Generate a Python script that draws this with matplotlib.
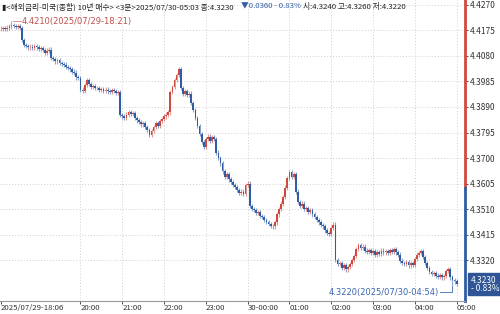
import matplotlib.pyplot as plt

plt.rcParams['font.family'] = ['Noto Sans CJK KR', 'DejaVu Sans']

# 3-minute bars, 2025/07/29 18:06 -> 2025/07/30 05:03
closes = [
    4.4182, 4.4185, 4.4180, 4.4186, 4.4190, 4.4195, 4.4192, 4.4188, 4.4190, 4.4185,
    4.4140, 4.4122, 4.4118, 4.4112, 4.4115, 4.4110, 4.4118, 4.4112, 4.4105, 4.4110,
    4.4102, 4.4092, 4.4100, 4.4104, 4.4072, 4.4068, 4.4060, 4.4064, 4.4055, 4.4050,
    4.4048, 4.4040, 4.4035, 4.4030, 4.4022, 4.4018, 4.4000, 4.3998, 4.3955, 4.3950,
    4.3972, 4.3990, 4.3975, 4.3965, 4.3968, 4.3960, 4.3962, 4.3955, 4.3958, 4.3950,
    4.3955, 4.3948, 4.3945, 4.3952, 4.3950, 4.3942, 4.3945, 4.3860, 4.3855, 4.3850,
    4.3862, 4.3870, 4.3865, 4.3868, 4.3848, 4.3840, 4.3835, 4.3825, 4.3830, 4.3815,
    4.3805, 4.3785, 4.3800, 4.3815, 4.3830, 4.3820, 4.3838, 4.3845, 4.3855, 4.3862,
    4.3870, 4.3945, 4.3965, 4.3990, 4.4010, 4.4030, 4.3960, 4.3940, 4.3948, 4.3935,
    4.3940, 4.3905, 4.3880, 4.3850, 4.3820, 4.3790, 4.3760, 4.3740, 4.3770, 4.3780,
    4.3765, 4.3778, 4.3772, 4.3720, 4.3700, 4.3680, 4.3650, 4.3630, 4.3640, 4.3620,
    4.3610, 4.3600, 4.3592, 4.3580, 4.3570, 4.3575, 4.3565, 4.3600, 4.3605, 4.3520,
    4.3510, 4.3505, 4.3495, 4.3500, 4.3485, 4.3480, 4.3470, 4.3462, 4.3455, 4.3448,
    4.3445, 4.3460, 4.3490, 4.3510, 4.3530, 4.3555, 4.3590, 4.3625, 4.3648, 4.3630,
    4.3640, 4.3575, 4.3535, 4.3520, 4.3530, 4.3510, 4.3515, 4.3500, 4.3505, 4.3490,
    4.3480, 4.3470, 4.3460, 4.3450, 4.3445, 4.3430, 4.3420, 4.3418, 4.3440, 4.3452,
    4.3320, 4.3305, 4.3310, 4.3290, 4.3300, 4.3285, 4.3295, 4.3305, 4.3320, 4.3335,
    4.3360, 4.3375, 4.3365, 4.3370, 4.3355, 4.3350, 4.3358, 4.3345, 4.3352, 4.3340,
    4.3350, 4.3342, 4.3355, 4.3348, 4.3352, 4.3345, 4.3358, 4.3350, 4.3362, 4.3348,
    4.3340, 4.3318, 4.3310, 4.3305, 4.3312, 4.3300, 4.3308, 4.3302, 4.3325, 4.3340,
    4.3345, 4.3352, 4.3330, 4.3310, 4.3290, 4.3275, 4.3268, 4.3270, 4.3262, 4.3258,
    4.3265, 4.3255, 4.3260, 4.3280, 4.3285, 4.3255, 4.3245, 4.3240, 4.3230,
]
first_open = 4.4180
wick = 0.0008
high_marks = {5: 4.4210}    # session high 18:21
low_marks = {216: 4.3220}   # session low 04:54
prev_close = 4.3590

price_ticks = [4.4270, 4.4175, 4.4080, 4.3985, 4.3890, 4.3795,
               4.3700, 4.3605, 4.3510, 4.3415, 4.3320]
time_pos = [0, 38, 58, 78, 98, 118, 138, 158, 178, 198, 218]
time_labels = ['2025/07/29-18:06', '20:00', '21:00', '22:00', '23:00',
               '30-00:00', '01:00', '02:00', '03:00', '04:00', '05:00']

RED = '#d0493e'
BLUE = '#2f5ca3'
YMIN, YMAX = 4.3168, 4.42886

opens = [first_open] + closes[:-1]
idx = list(range(len(closes)))
highs = [high_marks.get(i, max(o, c) + wick) for i, (o, c) in enumerate(zip(opens, closes))]
lows = [low_marks.get(i, min(o, c) - wick) for i, (o, c) in enumerate(zip(opens, closes))]
cols = [RED if c >= o else BLUE for o, c in zip(opens, closes)]
bodies = [c - o if abs(c - o) > 0.0001 else 0.0001 for o, c in zip(opens, closes)]

fig = plt.figure(figsize=(5, 3.14), dpi=100)
ax = fig.add_axes([0, 0.042, 0.93, 0.958])

ax.vlines(idx, lows, highs, colors=cols, lw=0.8, alpha=0.55)
ax.bar(idx, bodies, bottom=opens, width=0.85, color=cols, linewidth=0)

ax.set_xlim(-0.5, 222)
ax.set_ylim(YMIN, YMAX)

# grid
for p in price_ticks:
    ax.axhline(p, color='#cfcfcf', lw=0.7, ls=(0, (1, 2)), zorder=0)
for t in time_pos[1:]:
    ax.axvline(t, color='#cfcfcf', lw=0.7, ls=(0, (1, 2)), zorder=0)

# axes styling
for s in ['top', 'left', 'right']:
    ax.spines[s].set_visible(False)
ax.spines['bottom'].set_color('#999999')
ax.spines['bottom'].set_linewidth(0.8)
ax.yaxis.tick_right()
ax.set_yticks(price_ticks)
ax.set_yticklabels([f'{p:.4f}' for p in price_ticks])
ax.tick_params(axis='y', labelsize=6, colors='#333333', length=2.5, width=0.6, pad=1)
ax.set_xticks(time_pos)
ax.set_xticklabels(time_labels, ha='left')
ax.tick_params(axis='x', labelsize=5.6, colors='#333333', length=2, width=0.6, pad=0.5)

# right axis line: red above previous close, blue below
ytr = ax.get_yaxis_transform()
ax.plot([1, 1], [prev_close, YMAX], color=RED, lw=2, transform=ytr, clip_on=False)
ax.plot([1, 1], [YMIN, prev_close], color=BLUE, lw=2, transform=ytr, clip_on=False)

# current price box
ax.text(1.012, closes[-1], f'{closes[-1]:.4f}\n- 0.83%', transform=ytr, ha='left', va='center',
        fontsize=6, color='white', linespacing=0.9,
        bbox=dict(boxstyle='square,pad=0.25', fc='#2f5597', ec='#2f5597'))

# high / low annotations
ax.plot([5.6, 9.6], [high_marks[5], high_marks[5]], color=RED, lw=0.6, alpha=0.7)
ax.text(10, high_marks[5], '4.4210(2025/07/29-18:21)', color='#c0504d', fontsize=6,
        va='center', ha='left', family=['DejaVu Sans'])
ax.plot([210, 216, 216], [4.3200, 4.3200, low_marks[216]], color='#3a66b0', lw=0.6)
ax.text(209.5, 4.3200, '4.3220(2025/07/30-04:54)', color='#3a66b0', fontsize=6,
        va='center', ha='right', family=['DejaVu Sans'])

# header
fig.text(0.004, 0.978, '▮<해외금리-미국(종합) 10년 매수> <3분>2025/07/30-05:03 종:4.3230',
         fontsize=5.6, color='#222222', va='center', ha='left')
fig.text(0.482, 0.978, '▼0.0360 - 0.83%', fontsize=5.6, color='#2f5ca3', va='center', ha='left')
fig.text(0.606, 0.978, '시:4.3240 고:4.3260 저:4.3220', fontsize=5.6, color='#222222',
         va='center', ha='left')

fig.savefig('out.png', dpi=100)
